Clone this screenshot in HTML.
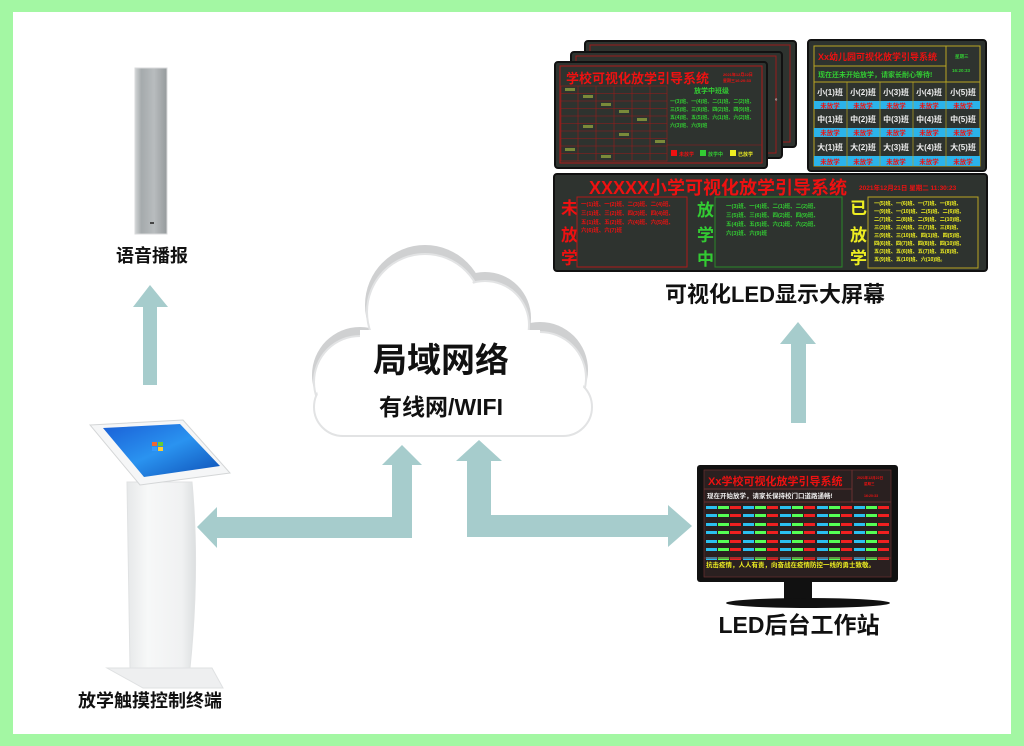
<!DOCTYPE html>
<html><head><meta charset="utf-8"><style>
html,body{margin:0;padding:0;width:1024px;height:746px;overflow:hidden;background:#a3f7a3;}
svg{display:block}
text{font-family:"Liberation Sans","Noto Sans CJK SC",sans-serif;font-weight:bold}
</style></head><body>
<svg width="1024" height="746" viewBox="0 0 1024 746" xmlns="http://www.w3.org/2000/svg">
<defs>
<linearGradient id="spk" x1="0" x2="1"><stop offset="0" stop-color="#d2d5d6"/><stop offset=".2" stop-color="#a5aaac"/><stop offset=".6" stop-color="#b8bcbe"/><stop offset="1" stop-color="#959a9c"/></linearGradient>
<linearGradient id="scr" x1="0" y1="0" x2="1" y2="1"><stop offset="0" stop-color="#1a5fd6"/><stop offset=".5" stop-color="#2a93f0"/><stop offset="1" stop-color="#0e4fb5"/></linearGradient>
<linearGradient id="pole" x1="0" x2="1"><stop offset="0" stop-color="#e6e8e9"/><stop offset=".3" stop-color="#f7f8f8"/><stop offset=".8" stop-color="#f0f1f2"/><stop offset="1" stop-color="#dcdfe0"/></linearGradient>
</defs>
<rect x="0" y="0" width="1024" height="746" fill="#a3f7a3"/>
<rect x="13" y="12" width="998" height="722" fill="#fff"/>

<!-- speaker -->
<rect x="135" y="68" width="32" height="166" fill="url(#spk)" stroke="#d8dadb" stroke-width="1"/>
<rect x="150" y="222" width="4" height="2" fill="#444"/>
<text x="152" y="262" font-size="18" text-anchor="middle" fill="#111">语音播报</text>
<polygon points="150,285 168,307 157,307 157,385 143,385 143,307 133,307" fill="#a6cccc"/>

<!-- kiosk -->
<polygon points="107,668 212,668 223,688 143,688" fill="#eeeff0" stroke="#dfe1e2"/>
<path d="M127,482 L192,482 Q200,570 190,668 L130,668 Z" fill="url(#pole)" stroke="#e0e2e3"/>
<polygon points="90,425 183,420 230,473 140,485" fill="#f5f6f7" stroke="#d4d6d7"/>
<polygon points="103,428 180,424 220,466 144,477" fill="url(#scr)"/>
<rect x="152" y="442" width="5" height="4" fill="#e63"/><rect x="158" y="442" width="5" height="4" fill="#6c3"/><rect x="152" y="447" width="5" height="4" fill="#39f"/><rect x="158" y="447" width="5" height="4" fill="#fc3"/>
<polygon points="197,527 217,507 217,517 392,517 392,465 382,465 402,445 422,465 412,465 412,538 217,538 217,548" fill="#a6cccc"/>
<text x="150" y="707" font-size="18" text-anchor="middle" fill="#111">放学触摸控制终端</text>

<!-- cloud -->
<g fill="#cfd0d1">
<circle cx="360" cy="375" r="48"/><circle cx="425" cy="305" r="60"/><circle cx="485" cy="318" r="46"/><circle cx="540" cy="370" r="48"/>
<rect x="318" y="370" width="270" height="66" rx="33"/>
</g>
<g fill="#fff" stroke="#e2e3e4" stroke-width="2">
<circle cx="360" cy="382" r="46"/><circle cx="425" cy="312" r="58"/><circle cx="485" cy="325" r="44"/><circle cx="540" cy="378" r="46"/>
<rect x="314" y="378" width="278" height="58" rx="29"/>
</g>
<g fill="#fff">
<circle cx="360" cy="382" r="44"/><circle cx="425" cy="312" r="56"/><circle cx="485" cy="325" r="42"/><circle cx="540" cy="378" r="44"/>
<rect x="316" y="378" width="274" height="56" rx="28"/>
<rect x="360" y="330" width="180" height="80"/>
</g>
<text x="441" y="372" font-size="34" text-anchor="middle" fill="#111">局域网络</text>
<text x="441" y="415" font-size="23" text-anchor="middle" fill="#111">有线网/WIFI</text>

<polygon points="456,461 479,440 502,461 491,461 491,515 668,515 668,505 692,526 668,547 668,537 467,537 467,461" fill="#a6cccc"/>
<polygon points="798,322 816,344 806,344 806,423 791,423 791,344 780,344" fill="#a6cccc"/>

<!-- back panels -->
<rect x="585" y="41" width="211" height="106" rx="3" fill="#2e332f" stroke="#111" stroke-width="2"/>
<rect x="590" y="45" width="200" height="97" fill="none" stroke="#9b1b1b"/>
<rect x="571" y="52" width="211" height="106" rx="3" fill="#2e332f" stroke="#111" stroke-width="2"/>
<rect x="576" y="56" width="200" height="97" fill="none" stroke="#9b1b1b"/>
<text x="775" y="100" font-size="6" fill="#ddd">。</text>
<rect x="555" y="62" width="212" height="106" rx="3" fill="#2e332f" stroke="#111" stroke-width="2"/>
<rect x="560" y="66" width="202" height="97" fill="none" stroke="#b01818"/>
<text x="566" y="83" font-size="13" fill="#e11">学校可视化放学引导系统</text>
<text x="723" y="76" font-size="4" fill="#e11">2021年12月22日</text>
<text x="723" y="82" font-size="4" fill="#e11">星期三16:20:33</text>
<g fill="none" stroke="#9b1b1b" stroke-width=".6">
<rect x="561" y="86" width="106" height="75"/>
<line x1="578" y1="86" x2="578" y2="161"/><line x1="596" y1="86" x2="596" y2="161"/><line x1="614" y1="86" x2="614" y2="161"/><line x1="632" y1="86" x2="632" y2="161"/><line x1="650" y1="86" x2="650" y2="161"/>
<line x1="561" y1="93.5" x2="667" y2="93.5"/><line x1="561" y1="101" x2="667" y2="101"/><line x1="561" y1="108.5" x2="667" y2="108.5"/><line x1="561" y1="116" x2="667" y2="116"/><line x1="561" y1="123.5" x2="667" y2="123.5"/><line x1="561" y1="131" x2="667" y2="131"/><line x1="561" y1="138.5" x2="667" y2="138.5"/><line x1="561" y1="146" x2="667" y2="146"/><line x1="561" y1="153.5" x2="667" y2="153.5"/>
<line x1="667" y1="145" x2="762" y2="145"/>
</g>
<g fill="#7a8a3a"><rect x="565" y="88" width="10" height="3"/><rect x="583" y="95" width="10" height="3"/><rect x="601" y="103" width="10" height="3"/><rect x="619" y="110" width="10" height="3"/><rect x="637" y="118" width="10" height="3"/><rect x="583" y="125" width="10" height="3"/><rect x="619" y="133" width="10" height="3"/><rect x="655" y="140" width="10" height="3"/><rect x="565" y="148" width="10" height="3"/><rect x="601" y="155" width="10" height="3"/></g>
<text x="694" y="93" font-size="7" fill="#3c3">放学中班级</text>
<g font-size="5" fill="#3c3"><text x="670" y="103">一(3)班、一(4)班、二(1)班、二(2)班、</text><text x="670" y="111">三(5)班、三(6)班、四(2)班、四(9)班、</text><text x="670" y="119">五(4)班、五(5)班、六(1)班、六(2)班、</text><text x="670" y="127">六(3)班、六(9)班</text></g>
<rect x="671" y="150" width="6" height="6" fill="#e11"/><text x="679" y="156" font-size="5" fill="#e11">未放学</text>
<rect x="700" y="150" width="6" height="6" fill="#3c3"/><text x="708" y="156" font-size="5" fill="#3c3">放学中</text>
<rect x="730" y="150" width="6" height="6" fill="#ee2"/><text x="738" y="156" font-size="5" fill="#ee2">已放学</text>

<!-- kindergarten panel -->
<rect x="808" y="40" width="178" height="131" rx="3" fill="#2e332f" stroke="#111" stroke-width="2"/>
<rect x="814" y="46" width="166" height="120" fill="none" stroke="#b9a623"/>
<line x1="814" y1="66" x2="946" y2="66" stroke="#b9a623"/><line x1="946" y1="46" x2="946" y2="82" stroke="#b9a623"/>
<text x="818" y="60" font-size="9" fill="#e11">Xx幼儿园可视化放学引导系统</text>
<text x="955" y="58" font-size="4.5" fill="#3c3">星期三</text>
<text x="952" y="72" font-size="4.5" fill="#3c3">16:20:33</text>
<text x="818" y="77" font-size="7" fill="#3c3">现在还未开始放学，请家长耐心等待!</text>
<line x1="814" y1="82" x2="980" y2="82" stroke="#b9a623"/>
<g fill="#2bb3ea"><rect x="814" y="101" width="166" height="8"/><rect x="814" y="128" width="166" height="9"/><rect x="814" y="156" width="166" height="10"/></g>
<g stroke="#b9a623" stroke-width=".7"><line x1="847" y1="82" x2="847" y2="166"/><line x1="880" y1="82" x2="880" y2="166"/><line x1="913" y1="82" x2="913" y2="166"/><line x1="946" y1="82" x2="946" y2="166"/></g>
<g font-size="8" fill="#eee" text-anchor="middle">
<text x="830" y="95">小(1)班</text><text x="863" y="95">小(2)班</text><text x="896" y="95">小(3)班</text><text x="929" y="95">小(4)班</text><text x="963" y="95">小(5)班</text>
<text x="830" y="122">中(1)班</text><text x="863" y="122">中(2)班</text><text x="896" y="122">中(3)班</text><text x="929" y="122">中(4)班</text><text x="963" y="122">中(5)班</text>
<text x="830" y="150">大(1)班</text><text x="863" y="150">大(2)班</text><text x="896" y="150">大(3)班</text><text x="929" y="150">大(4)班</text><text x="963" y="150">大(5)班</text>
</g>
<g font-size="6.5" fill="#e11" text-anchor="middle">
<text x="830" y="108">未放学</text><text x="863" y="108">未放学</text><text x="896" y="108">未放学</text><text x="929" y="108">未放学</text><text x="963" y="108">未放学</text>
<text x="830" y="135">未放学</text><text x="863" y="135">未放学</text><text x="896" y="135">未放学</text><text x="929" y="135">未放学</text><text x="963" y="135">未放学</text>
<text x="830" y="164">未放学</text><text x="863" y="164">未放学</text><text x="896" y="164">未放学</text><text x="929" y="164">未放学</text><text x="963" y="164">未放学</text>
</g>

<!-- wide panel -->
<rect x="554" y="174" width="433" height="97" rx="3" fill="#2e332f" stroke="#111" stroke-width="2"/>
<text x="718" y="194" font-size="18" fill="#e11" text-anchor="middle">XXXXX小学可视化放学引导系统</text>
<text x="859" y="190" font-size="6.5" fill="#e11">2021年12月21日   星期二   11:30:23</text>
<g font-size="17" fill="#e11"><text x="561" y="214">未</text><text x="561" y="241">放</text><text x="561" y="264">学</text></g>
<rect x="577" y="197" width="110" height="70" fill="none" stroke="#b01818"/>
<g font-size="5.5" fill="#e11"><text x="581" y="206">一(1)班、一(2)班、二(3)班、二(4)班、</text><text x="581" y="215">三(1)班、三(2)班、四(3)班、四(4)班、</text><text x="581" y="224">五(1)班、五(2)班、六(4)班、六(5)班、</text><text x="581" y="232">六(6)班、六(7)班</text></g>
<g font-size="17" fill="#3c3"><text x="697" y="216">放</text><text x="697" y="241">学</text><text x="697" y="265">中</text></g>
<rect x="715" y="197" width="127" height="70" fill="none" stroke="#2a8a2a"/>
<g font-size="5.5" fill="#3c3"><text x="726" y="208">一(3)班、一(4)班、二(1)班、二(2)班、</text><text x="726" y="217">三(5)班、三(6)班、四(2)班、四(9)班、</text><text x="726" y="226">五(4)班、五(5)班、六(1)班、六(2)班、</text><text x="726" y="235">六(3)班、六(9)班</text></g>
<g font-size="17" fill="#ee2"><text x="850" y="214">已</text><text x="850" y="241">放</text><text x="850" y="264">学</text></g>
<rect x="868" y="197" width="110" height="71" fill="none" stroke="#b9a623"/>
<g font-size="5.2" fill="#ee2"><text x="874" y="205">一(5)班、一(6)班、一(7)班、一(8)班、</text><text x="874" y="213">一(9)班、一(10)班、二(5)班、二(6)班、</text><text x="874" y="221">二(7)班、二(8)班、二(9)班、二(10)班、</text><text x="874" y="229">三(3)班、三(4)班、三(7)班、三(8)班、</text><text x="874" y="237">三(9)班、三(10)班、四(1)班、四(5)班、</text><text x="874" y="245">四(6)班、四(7)班、四(8)班、四(10)班、</text><text x="874" y="253">五(3)班、五(6)班、五(7)班、五(8)班、</text><text x="874" y="261">五(9)班、五(10)班、六(10)班。</text></g>
<text x="775" y="302" font-size="22" fill="#111" text-anchor="middle">可视化LED显示大屏幕</text>

<!-- workstation monitor -->
<rect x="784" y="580" width="28" height="20" fill="#111"/>
<ellipse cx="808" cy="603" rx="82" ry="5" fill="#111"/>
<rect x="697" y="465" width="201" height="117" rx="3" fill="#111"/>
<rect x="704" y="470" width="187" height="107" fill="#2a2020" stroke="#6a3030" stroke-width=".7"/>
<text x="708" y="485" font-size="11" fill="#e11">Xx学校可视化放学引导系统</text>
<text x="857" y="479" font-size="3.5" fill="#e11">2021年12月22日</text>
<text x="864" y="485" font-size="3.5" fill="#e11">星期三</text>
<text x="864" y="497" font-size="3.5" fill="#e11">16:20:33</text>
<line x1="852" y1="470" x2="852" y2="502" stroke="#6a3030"/>
<line x1="704" y1="489" x2="852" y2="489" stroke="#6a3030"/>
<text x="707" y="498" font-size="6.5" fill="#eee">现在开始放学，请家长保持校门口道路通畅!</text>
<line x1="704" y1="502" x2="891" y2="502" stroke="#6a3030"/>
<g id="row">
<rect x="706" y="506" width="11" height="3" fill="#2bc0f0"/><rect x="718" y="506" width="11" height="3" fill="#55ff55"/><rect x="730" y="506" width="11" height="3" fill="#f02020"/>
<rect x="743" y="506" width="11" height="3" fill="#2bc0f0"/><rect x="755" y="506" width="11" height="3" fill="#55ff55"/><rect x="767" y="506" width="11" height="3" fill="#f02020"/>
<rect x="780" y="506" width="11" height="3" fill="#2bc0f0"/><rect x="792" y="506" width="11" height="3" fill="#55ff55"/><rect x="804" y="506" width="11" height="3" fill="#f02020"/>
<rect x="817" y="506" width="11" height="3" fill="#2bc0f0"/><rect x="829" y="506" width="11" height="3" fill="#55ff55"/><rect x="841" y="506" width="11" height="3" fill="#f02020"/>
<rect x="854" y="506" width="11" height="3" fill="#2bc0f0"/><rect x="866" y="506" width="11" height="3" fill="#55ff55"/><rect x="878" y="506" width="11" height="3" fill="#f02020"/>
</g>
<use href="#row" y="8"/><use href="#row" y="17"/><use href="#row" y="25"/><use href="#row" y="34"/><use href="#row" y="42"/><use href="#row" y="51"/>
<line x1="704" y1="558" x2="891" y2="558" stroke="#6a3030"/>
<text x="706" y="567" font-size="6.5" fill="#ee2">抗击疫情，人人有责，向奋战在疫情防控一线的勇士致敬。</text>
<text x="799" y="633" font-size="23" fill="#111" text-anchor="middle">LED后台工作站</text>
</svg>
</body></html>
